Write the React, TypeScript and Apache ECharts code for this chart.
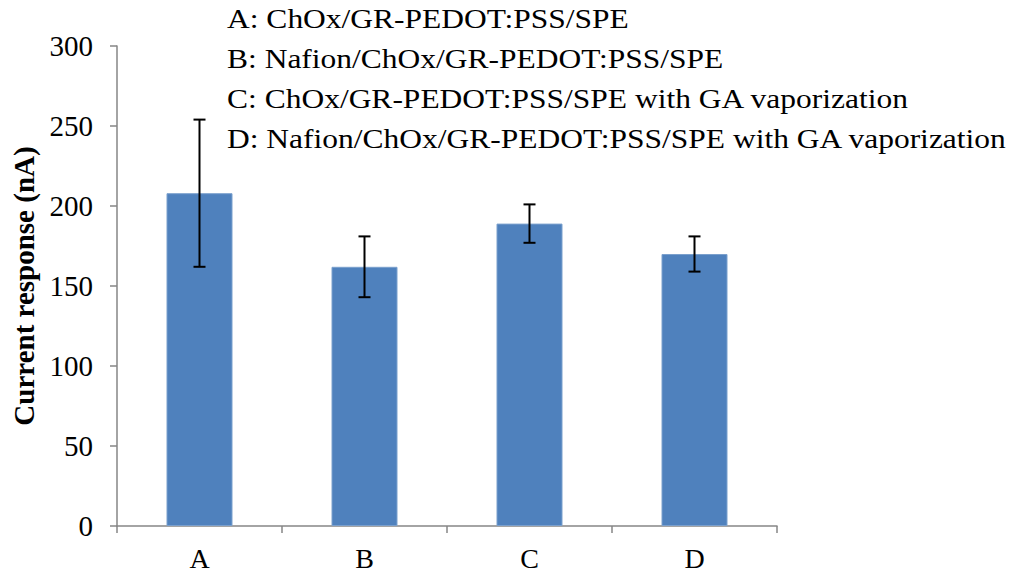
import React, { useEffect, useRef } from "react";
import * as echarts from "echarts";

const categories = ["A", "B", "C", "D"];
const values = [208, 162, 189, 170];
const errors = [46, 19, 12, 11];
const legendLines = [
  "A: ChOx/GR-PEDOT:PSS/SPE",
  "B: Nafion/ChOx/GR-PEDOT:PSS/SPE",
  "C: ChOx/GR-PEDOT:PSS/SPE with GA vaporization",
  "D: Nafion/ChOx/GR-PEDOT:PSS/SPE with GA vaporization",
];
const yTicks = { min: 0, max: 300, interval: 50 };

const FONT = "Liberation Serif";

export default function App() {
  const ref = useRef<HTMLDivElement>(null);
  useEffect(() => {
    if (!ref.current) return;
    const chart = echarts.init(ref.current, null, { renderer: "svg" });
    const errData = categories.map((c, i) => [i, values[i] - errors[i], values[i] + errors[i]]);
    chart.setOption({
      animation: false,
      backgroundColor: "#ffffff",
      grid: { left: 117, right: 247, top: 46, bottom: 45, containLabel: false },
      xAxis: {
        type: "category",
        data: categories,
        boundaryGap: true,
        axisLine: { lineStyle: { color: "#868686", width: 1.5 } },
        axisTick: { show: true, length: 7, alignWithLabel: false, lineStyle: { color: "#868686", width: 1.5 } },
        axisLabel: { color: "#000", fontFamily: FONT, fontSize: 28, margin: 18 },
      },
      yAxis: {
        type: "value",
        min: yTicks.min,
        max: yTicks.max,
        interval: yTicks.interval,
        name: "Current response (nA)",
        nameLocation: "middle",
        nameGap: 78,
        nameTextStyle: { color: "#000", fontFamily: FONT, fontSize: 29, fontWeight: "bold" },
        axisLine: { show: true, lineStyle: { color: "#868686", width: 1.5 } },
        axisTick: { show: true, length: 7, lineStyle: { color: "#868686", width: 1.5 } },
        axisLabel: { color: "#000", fontFamily: FONT, fontSize: 29, margin: 24 },
        splitLine: { show: false },
      },
      series: [
        {
          type: "bar",
          data: values,
          barWidth: "40%",
          itemStyle: { color: "#4F81BD", borderColor: "#7BA0CD", borderWidth: 1 },
        },
        {
          type: "custom",
          data: errData,
          z: 10,
          renderItem: (params: any, api: any) => {
            const x = api.value(0);
            const lo = api.coord([x, api.value(1)]);
            const hi = api.coord([x, api.value(2)]);
            const half = 6;
            const style = { stroke: "#000", lineWidth: 2 };
            return {
              type: "group",
              children: [
                { type: "line", shape: { x1: hi[0], y1: hi[1], x2: lo[0], y2: lo[1] }, style },
                { type: "line", shape: { x1: hi[0] - half, y1: hi[1], x2: hi[0] + half, y2: hi[1] }, style },
                { type: "line", shape: { x1: lo[0] - half, y1: lo[1], x2: lo[0] + half, y2: lo[1] }, style },
              ],
            };
          },
        },
      ],
      graphic: legendLines.map((t, i) => ({
        type: "text",
        x: 227,
        y: 18 + i * 40,
        scaleX: 1.125,
        style: { text: t, fill: "#000", fontFamily: FONT, fontSize: 28, verticalAlign: "middle", align: "left" },
      })),
    });
    return () => chart.dispose();
  }, []);
  return <div ref={ref} style={{ width: 1024, height: 572, position: "absolute", left: 0, top: 0 }} />;
}
